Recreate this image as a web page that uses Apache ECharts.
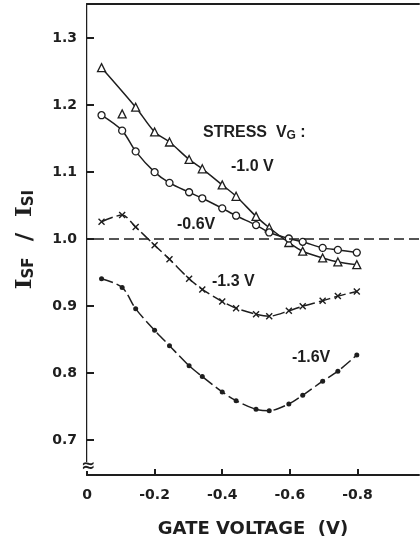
<!DOCTYPE html>
<html>
<head>
<meta charset="utf-8">
<script src="https://cdn.jsdelivr.net/npm/echarts@6/dist/echarts.min.js"></script>
<style>
  html, body { margin: 0; padding: 0; background: #fff; }
  #chart { width: 420px; height: 543px; }
</style>
</head>
<body>
<div id="chart"></div>
<script>
// gate voltage of each measurement (V)
const gateV = [-0.043, -0.104, -0.144, -0.2, -0.244, -0.302, -0.341, -0.4, -0.441, -0.5, -0.539, -0.597, -0.638, -0.697, -0.742, -0.798];
// I_SF / I_SI for each stress gate voltage
const ratio10 = [1.256, 1.187, 1.197, 1.160, 1.145, 1.119, 1.105, 1.081, 1.064, 1.034, 1.017, 0.995, 0.982, 0.972, 0.966, 0.962];
const ratio06 = [1.185, 1.162, 1.131, 1.100, 1.084, 1.070, 1.061, 1.046, 1.035, 1.021, 1.010, 1.001, 0.996, 0.987, 0.984, 0.980];
const ratio13 = [1.026, 1.036, 1.018, 0.991, 0.970, 0.941, 0.925, 0.907, 0.897, 0.888, 0.885, 0.893, 0.900, 0.908, 0.915, 0.922];
const ratio16 = [0.941, 0.928, 0.896, 0.864, 0.841, 0.811, 0.795, 0.772, 0.759, 0.746, 0.744, 0.754, 0.767, 0.788, 0.803, 0.827];
const outlier10 = 1; // this triangle sits off the drawn -1.0 V curve
const xTicks = [0, -0.2, -0.4, -0.6, -0.8];
const yTicks = [0.7, 0.8, 0.9, 1.0, 1.1, 1.2, 1.3];

const ink = '#1e1e1e';
const font = 'DejaVu Sans';
const noteFont = 'Liberation Sans';

const pts = (ys) => gateV.map((x, i) => [x, ys[i]]);
const curve10 = gateV.map((x, i) => (i === outlier10 ? null : [x, ratio10[i]]));

const chart = echarts.init(document.getElementById('chart'));

const lineBase = {
  type: 'line',
  smooth: 0.3,
  color: ink,
  lineStyle: { color: ink, width: 1.5 },
  animation: false
};

const note = (text, x, y) => ({
  type: 'text', x: x, y: y, z: 101,
  style: { text: text, fontFamily: noteFont, fontWeight: 'bold', fontSize: 16, fill: ink, verticalAlign: 'middle' }
});

chart.setOption({
  backgroundColor: '#fff',
  grid: { left: 87, right: 1, top: 4, bottom: 66 },
  xAxis: [{
    type: 'value',
    min: -0.982,
    max: 0,
    inverse: true,
    splitLine: { show: false },
    axisLine: { onZero: false, lineStyle: { color: ink, width: 2 } },
    axisTick: { inside: true, length: 6, customValues: xTicks, lineStyle: { color: ink, width: 2 } },
    axisLabel: {
      customValues: xTicks,
      margin: 13,
      color: ink,
      fontFamily: font,
      fontWeight: 'bold',
      fontSize: 14,
      formatter: (v) => (v === 0 ? '0' : v.toFixed(1))
    },
    name: 'GATE VOLTAGE  (V)',
    nameLocation: 'middle',
    nameGap: 45,
    nameTextStyle: { color: ink, fontFamily: font, fontWeight: 'bold', fontSize: 18 }
  }, {
    type: 'value',
    position: 'top',
    min: -0.982,
    max: 0,
    inverse: true,
    splitLine: { show: false },
    axisTick: { show: false },
    axisLabel: { show: false },
    axisLine: { lineStyle: { color: ink, width: 2 } }
  }],
  yAxis: [{
    type: 'value',
    min: 0.648,
    max: 1.351,
    splitLine: { show: false },
    axisLine: { onZero: false, lineStyle: { color: ink, width: 2 } },
    axisTick: { inside: true, length: 7, customValues: yTicks, lineStyle: { color: ink, width: 2 } },
    axisLabel: {
      customValues: yTicks,
      margin: 10,
      color: ink,
      fontFamily: font,
      fontWeight: 'bold',
      fontSize: 14,
      formatter: (v) => v.toFixed(1)
    },
    name: 'I{s|SF}  /  I{s|SI}',
    nameLocation: 'middle',
    nameRotate: 90,
    nameGap: 50,
    nameTextStyle: {
      color: ink,
      fontFamily: 'DejaVu Serif',
      fontWeight: 'bold',
      fontSize: 23,
      rich: {
        s: { fontFamily: font, fontWeight: 'bold', fontSize: 15, color: ink, padding: [7, 0, 0, 0] }
      }
    }
  }, {
    type: 'value',
    position: 'right',
    min: 0.648,
    max: 1.351,
    splitLine: { show: false },
    axisTick: { show: false },
    axisLabel: { show: false },
    axisLine: { lineStyle: { color: '#c8c8c8', width: 1 } }
  }],
  series: [
    Object.assign({}, lineBase, {
      name: '-1.0 V curve',
      data: curve10,
      connectNulls: true,
      showSymbol: false,
      markLine: {
        silent: true,
        symbol: 'none',
        label: { show: false },
        lineStyle: { color: ink, width: 1.5, type: [10, 5] },
        data: [{ yAxis: 1.0 }]
      }
    }),
    {
      name: '-1.0 V',
      type: 'scatter',
      data: pts(ratio10),
      symbol: 'triangle',
      symbolSize: 8,
      itemStyle: { color: '#fff', borderColor: ink, borderWidth: 1.3, opacity: 1 },
      z: 3,
      animation: false
    },
    Object.assign({}, lineBase, {
      name: '-0.6 V',
      data: pts(ratio06),
      symbol: 'circle',
      symbolSize: 7,
      itemStyle: { color: '#fff', borderColor: ink, borderWidth: 1.3 }
    }),
    Object.assign({}, lineBase, {
      name: '-1.3 V',
      data: pts(ratio13),
      symbol: 'path://M0 0L10 10M10 0L0 10',
      symbolSize: 6,
      lineStyle: { color: ink, width: 1.5, type: [12, 4] },
      itemStyle: { color: 'none', borderColor: ink, borderWidth: 1.4 }
    }),
    Object.assign({}, lineBase, {
      name: '-1.6 V',
      data: pts(ratio16),
      symbol: 'circle',
      symbolSize: 5,
      lineStyle: { color: ink, width: 1.5, type: [12, 4] },
      itemStyle: { color: ink, borderWidth: 0 }
    })
  ],
  graphic: [
    { type: 'rect', shape: { x: 81, y: 462, width: 13, height: 9 }, style: { fill: '#fff' }, z: 100 },
    { type: 'text', x: 88, y: 467, z: 101,
      style: { text: '≈', fontFamily: font, fontWeight: 'bold', fontSize: 17, fill: ink, align: 'center', verticalAlign: 'middle' } },
    { type: 'text', x: 203, y: 133, z: 101,
      style: {
        text: 'STRESS  V{s|G} :', fontFamily: noteFont, fontWeight: 'bold', fontSize: 16, fill: ink, verticalAlign: 'middle',
        rich: { s: { fontFamily: noteFont, fontWeight: 'bold', fontSize: 12, fill: ink, padding: [6, 0, 0, 0] } }
      } },
    note('-1.0 V', 231, 167),
    note('-0.6V', 177, 225),
    note('-1.3 V', 212, 282),
    note('-1.6V', 292, 358)
  ]
});
</script>
</body>
</html>
